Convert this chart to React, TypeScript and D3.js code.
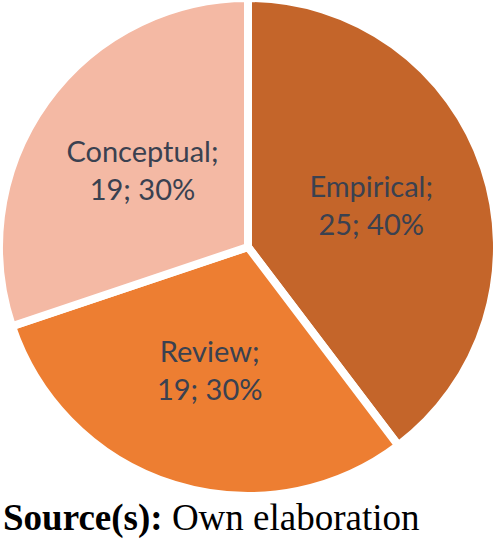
import React, { useEffect, useRef } from "react";
import * as d3 from "d3";

const categories = ["Empirical", "Review", "Conceptual"];
const counts = [25, 19, 19];
const percents = ["40%", "30%", "30%"];
const colors = ["#C4652A", "#ED7E32", "#F4B9A4"];

const App: React.FC = () => {
  const svgRef = useRef<SVGSVGElement | null>(null);

  useEffect(() => {
    const svg = d3.select(svgRef.current);
    svg.selectAll("*").remove();

    const cx = 248;
    const cy = 247;
    const radius = 249;

    const data = categories.map((c, i) => ({ name: c, value: counts[i], pct: percents[i], color: colors[i] }));

    const pie = d3.pie<any>().value((d) => d.value).sort(null);
    const arc = d3.arc<any>().innerRadius(0).outerRadius(radius);
    const labelArc = d3.arc<any>().innerRadius(130).outerRadius(130);

    const g = svg.append("g").attr("transform", `translate(${cx},${cy})`);

    const arcs = pie(data);

    g.selectAll("path")
      .data(arcs)
      .enter()
      .append("path")
      .attr("d", arc)
      .attr("fill", (d) => d.data.color)
      .attr("stroke", "#ffffff")
      .attr("stroke-width", 8)
      .attr("stroke-linejoin", "miter");

    const labels = g.selectAll("text.lbl")
      .data(arcs)
      .enter()
      .append("text")
      .attr("class", "lbl")
      .attr("transform", (d) => `translate(${labelArc.centroid(d)})`)
      .attr("text-anchor", "middle")
      .style("font-family", "Lato, 'Open Sans', sans-serif")
      .style("font-size", "29px")
      .style("fill", "#3a4150");

    labels.append("tspan").attr("x", 0).attr("y", -9).text((d) => d.data.name + ";");
    labels.append("tspan").attr("x", 0).attr("y", 29).text((d) => `${d.data.value}; ${d.data.pct}`);

    const src = svg.append("text")
      .attr("x", 3)
      .attr("y", 530)
      .style("font-family", "'Liberation Serif', 'Times New Roman', serif")
      .style("font-size", "37px")
      .style("fill", "#000");
    src.append("tspan").style("font-weight", "bold").text("Source(s):");
    src.append("tspan").text(" Own elaboration");
  }, []);

  return (
    <svg
      ref={svgRef}
      width={497}
      height={542}
      style={{ position: "absolute", left: 0, top: 0, background: "#fff" }}
    />
  );
};

export default App;
